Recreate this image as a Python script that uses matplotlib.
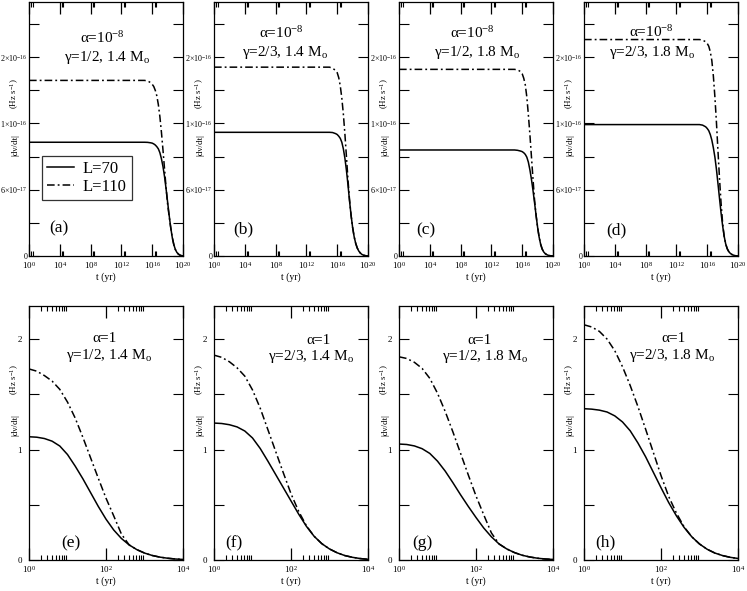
import numpy as np
import matplotlib
matplotlib.use('Agg')
import matplotlib.pyplot as plt
from matplotlib.ticker import FixedLocator, NullFormatter, FixedFormatter

plt.rcParams['font.family'] = ['Liberation Serif', 'DejaVu Serif']
plt.rcParams['mathtext.fontset'] = 'custom'
plt.rcParams['mathtext.rm'] = 'Liberation Serif'
plt.rcParams['mathtext.it'] = 'Liberation Serif:italic'
plt.rcParams['mathtext.bf'] = 'Liberation Serif:bold'

# ---------------- data (log10 t [yr], |dnu/dt|) ----------------
# Top row: alpha = 1e-8, values in units of 1e-16 Hz s^-1
top_logt = [0, 8, 12, 15.0, 15.4, 15.8, 16.0, 16.2, 16.4, 16.6, 16.8, 17.0, 17.2, 17.4, 17.6,
            17.8, 18.0, 18.2, 18.4, 18.6, 18.8, 19.0, 19.2, 19.4, 19.6, 19.8, 20.0]
a_L70_y = [1.03, 1.03, 1.03, 1.03, 1.029, 1.025, 1.022, 1.015, 1.005, 0.99, 0.97, 0.935, 0.88, 0.81, 0.72,
           0.61, 0.49, 0.37, 0.26, 0.17, 0.105, 0.06, 0.033, 0.017, 0.008, 0.003, 0.0]
a_L110_y = [1.59, 1.59, 1.59, 1.59, 1.585, 1.57, 1.555, 1.535, 1.50, 1.45, 1.37, 1.26, 1.12, 0.96, 0.79,
            0.62, 0.47, 0.36, 0.26, 0.17, 0.105, 0.06, 0.033, 0.017, 0.008, 0.003, 0.0]
b_L70_y = [1.12, 1.12, 1.12, 1.12, 1.118, 1.108, 1.10, 1.085, 1.065, 1.03, 0.97, 0.885, 0.775, 0.645, 0.50,
           0.37, 0.26, 0.175, 0.115, 0.073, 0.045, 0.027, 0.015, 0.008, 0.004, 0.001, 0.0]
b_L110_y = [1.71, 1.71, 1.71, 1.71, 1.70, 1.68, 1.66, 1.615, 1.54, 1.43, 1.285, 1.105, 0.90, 0.69, 0.51,
            0.37, 0.26, 0.175, 0.115, 0.073, 0.045, 0.027, 0.015, 0.008, 0.004, 0.001, 0.0]
c_L70_y = [0.96, 0.96, 0.96, 0.96, 0.957, 0.95, 0.945, 0.935, 0.92, 0.895, 0.85, 0.78, 0.695, 0.595, 0.485,
           0.37, 0.26, 0.17, 0.105, 0.062, 0.036, 0.021, 0.012, 0.006, 0.003, 0.001, 0.0]
c_L110_y = [1.69, 1.69, 1.69, 1.69, 1.685, 1.67, 1.65, 1.61, 1.55, 1.44, 1.28, 1.10, 0.90, 0.70, 0.51,
            0.37, 0.26, 0.17, 0.105, 0.062, 0.036, 0.021, 0.012, 0.006, 0.003, 0.001, 0.0]
d_L70_y = [1.19, 1.19, 1.19, 1.19, 1.185, 1.17, 1.155, 1.135, 1.10, 1.05, 0.98, 0.895, 0.785, 0.655, 0.52,
           0.39, 0.275, 0.18, 0.11, 0.066, 0.04, 0.024, 0.014, 0.008, 0.004, 0.001, 0.0]
d_L110_y = [1.96, 1.96, 1.96, 1.96, 1.955, 1.94, 1.925, 1.90, 1.85, 1.77, 1.63, 1.44, 1.21, 0.95, 0.70,
            0.48, 0.30, 0.18, 0.11, 0.066, 0.04, 0.024, 0.014, 0.008, 0.004, 0.001, 0.0]

# Bottom row: alpha = 1, values in Hz s^-1
bot_logt = [0.0, 0.2, 0.4, 0.6, 0.8, 1.0, 1.2, 1.4, 1.6, 1.8, 2.0, 2.2, 2.4, 2.6, 2.8, 3.0,
            3.2, 3.4, 3.6, 3.8, 4.0]
e_L70_y = [1.116, 1.112, 1.10, 1.076, 1.032, 0.955, 0.85, 0.735, 0.61, 0.485, 0.37, 0.272, 0.195, 0.137,
           0.094, 0.063, 0.041, 0.026, 0.016, 0.009, 0.005]
e_L110_y = [1.73, 1.71, 1.67, 1.62, 1.545, 1.43, 1.285, 1.11, 0.925, 0.74, 0.56, 0.40, 0.235, 0.137,
            0.094, 0.063, 0.041, 0.026, 0.016, 0.009, 0.005]
f_L70_y = [1.24, 1.236, 1.225, 1.205, 1.168, 1.105, 1.01, 0.895, 0.775, 0.655, 0.535, 0.415, 0.305, 0.215,
           0.148, 0.10, 0.065, 0.04, 0.024, 0.013, 0.006]
f_L110_y = [1.855, 1.835, 1.795, 1.74, 1.665, 1.54, 1.375, 1.18, 0.985, 0.79, 0.60, 0.44, 0.31, 0.215,
            0.148, 0.10, 0.065, 0.04, 0.024, 0.013, 0.006]
g_L70_y = [1.05, 1.046, 1.033, 1.008, 0.965, 0.895, 0.805, 0.70, 0.59, 0.485, 0.385, 0.29, 0.21, 0.145,
           0.10, 0.067, 0.043, 0.027, 0.016, 0.009, 0.005]
g_L110_y = [1.84, 1.825, 1.79, 1.735, 1.645, 1.51, 1.345, 1.16, 0.965, 0.77, 0.58, 0.41, 0.245, 0.145,
            0.10, 0.067, 0.043, 0.027, 0.016, 0.009, 0.005]
h_L70_y = [1.37, 1.366, 1.357, 1.34, 1.305, 1.25, 1.17, 1.06, 0.935, 0.795, 0.655, 0.52, 0.40, 0.295,
           0.21, 0.145, 0.097, 0.063, 0.04, 0.024, 0.014]
h_L110_y = [2.13, 2.11, 2.07, 2.0, 1.895, 1.75, 1.58, 1.39, 1.185, 0.975, 0.765, 0.575, 0.425, 0.30,
            0.21, 0.145, 0.097, 0.063, 0.04, 0.024, 0.014]

panel_letters = ['(a)', '(b)', '(c)', '(d)', '(e)', '(f)', '(g)', '(h)']
alpha_texts = ['α=10$^{-8}$'] * 4 + ['α=1'] * 4
gamma_texts = ['γ=1/2, 1.4 M$_\\mathrm{o}$', 'γ=2/3, 1.4 M$_\\mathrm{o}$',
               'γ=1/2, 1.8 M$_\\mathrm{o}$', 'γ=2/3, 1.8 M$_\\mathrm{o}$'] * 2
legend_labels = ['L=70', 'L=110']

top_yticks = [0, 0.6, 1.2, 1.8]
top_yminor = [0.3, 0.9, 1.5, 2.1]
top_yticklabels = ['0', r'6$\times$10$^{-17}$', r'1$\times$10$^{-16}$', r'2$\times$10$^{-16}$']
bot_yticks = [0, 1, 2]
bot_yminor = [0.5, 1.5]
bot_yticklabels = ['0', '1', '2']
top_xexp = [0, 4, 8, 12, 16, 20]
bot_xexp = [0, 2, 4]
top_xminor_mult = [2, 3]
bot_xminor_mult = [2, 3, 4, 5, 6, 7, 8, 9]

curves = [
    (top_logt, a_L70_y, a_L110_y),
    (top_logt, b_L70_y, b_L110_y),
    (top_logt, c_L70_y, c_L110_y),
    (top_logt, d_L70_y, d_L110_y),
    (bot_logt, e_L70_y, e_L110_y),
    (bot_logt, f_L70_y, f_L110_y),
    (bot_logt, g_L70_y, g_L110_y),
    (bot_logt, h_L70_y, h_L110_y),
]

# layout / positions (axes fractions)
alpha_pos = [(0.48, 0.858), (0.44, 0.878), (0.474, 0.878), (0.435, 0.882),
             (0.49, 0.874), (0.68, 0.866), (0.52, 0.866), (0.58, 0.874)]
gamma_pos = [(0.506, 0.783), (0.458, 0.803), (0.506, 0.80), (0.442, 0.80),
             (0.52, 0.807), (0.63, 0.80), (0.56, 0.80), (0.57, 0.807)]
letter_pos = [(0.195, 0.11), (0.19, 0.106), (0.177, 0.10), (0.21, 0.10),
              (0.27, 0.067), (0.13, 0.067), (0.155, 0.067), (0.14, 0.07)]

W, H = 747, 591
fig = plt.figure(figsize=(W / 100, H / 100), dpi=100)
lefts = [29, 214, 399, 584]
tops = [2, 306]
aw, ah = 154, 254

dashdot = (0, (5, 2, 1.2, 2))

for i in range(8):
    row, col = divmod(i, 4)
    ax = fig.add_axes([lefts[col] / W, 1 - (tops[row] + ah) / H, aw / W, ah / H])
    logt, y70, y110 = curves[i]
    t = 10.0 ** np.array(logt)
    l1, = ax.plot(t, y70, color='black', lw=1.1, solid_joinstyle='round')
    l2, = ax.plot(t, y110, color='black', lw=1.1, linestyle=dashdot)
    ax.set_xscale('log')
    if row == 0:
        exps, mults = top_xexp, top_xminor_mult
        ax.set_ylim(0, 2.3)
        ax.yaxis.set_major_locator(FixedLocator(top_yticks))
        ax.yaxis.set_major_formatter(FixedFormatter(top_yticklabels))
        ax.yaxis.set_minor_locator(FixedLocator(top_yminor))
        ylpad, ylsize = 1.0, 5.8
        hz_y, dn_y = 0.64, 0.437
    else:
        exps, mults = bot_xexp, bot_xminor_mult
        ax.set_ylim(0, 2.3)
        ax.yaxis.set_major_locator(FixedLocator(bot_yticks))
        ax.yaxis.set_major_formatter(FixedFormatter(bot_yticklabels))
        ax.yaxis.set_minor_locator(FixedLocator(bot_yminor))
        ylpad, ylsize = 5, 6.5
        hz_y, dn_y = 0.709, 0.531
    ax.set_xlim(10.0 ** exps[0], 10.0 ** exps[-1])
    ax.xaxis.set_major_locator(FixedLocator([10.0 ** e for e in exps]))
    ax.xaxis.set_major_formatter(FixedFormatter([r'10$^{%d}$' % e for e in exps]))
    minors = [m * 10.0 ** e for e in exps[:-1] for m in mults]
    ax.xaxis.set_minor_locator(FixedLocator(minors))
    ax.xaxis.set_minor_formatter(NullFormatter())

    ax.tick_params(axis='x', which='major', direction='in', top=True, bottom=True, length=8.6, width=0.9,
                   labelsize=6.5, pad=3)
    ax.tick_params(axis='x', which='minor', direction='in', top=True, bottom=True, length=3.6, width=0.8)
    ax.tick_params(axis='y', which='both', direction='in', left=True, right=True, length=7, width=0.8,
                   labelsize=ylsize, pad=ylpad)
    for s in ax.spines.values():
        s.set_linewidth(0.9)

    ax.set_xlabel('t (yr)', fontsize=7, labelpad=1)
    ax.text(-0.09, hz_y, r'(Hz s$^{-1}$)', transform=ax.transAxes, rotation=90,
            ha='center', va='center', fontsize=6.5)
    ax.text(-0.09, dn_y, '|dν/dt|', transform=ax.transAxes, rotation=90,
            ha='center', va='center', fontsize=6.5)

    ax.text(*alpha_pos[i], alpha_texts[i], transform=ax.transAxes, ha='center', va='center', fontsize=11)
    ax.text(*gamma_pos[i], gamma_texts[i], transform=ax.transAxes, ha='center', va='center', fontsize=11)
    ax.text(*letter_pos[i], panel_letters[i], transform=ax.transAxes, ha='center', va='center', fontsize=12.5)

    if i == 0:
        leg = ax.legend([l1, l2], legend_labels, loc='lower left', bbox_to_anchor=(0.084, 0.22),
                        fontsize=12, frameon=True, fancybox=False, edgecolor='black',
                        handlelength=1.6, handletextpad=0.55, labelspacing=0.15,
                        borderpad=0.3, borderaxespad=0)
        leg.get_frame().set_linewidth(0.9)

fig.savefig('out.png', dpi=100)
